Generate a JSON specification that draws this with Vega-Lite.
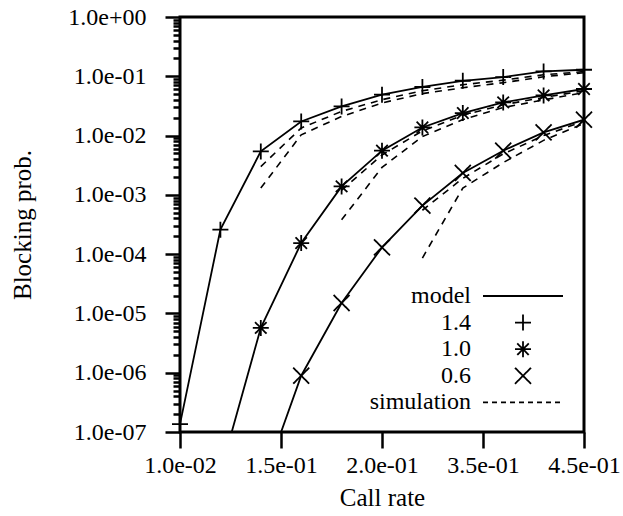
{
  "$schema": "https://vega.github.io/schema/vega-lite/v6.json",
  "width": 404,
  "height": 415,
  "autosize": {"type": "none"},
  "padding": {"left": 180, "top": 17, "right": 39, "bottom": 84},
  "background": "white",
  "config": {
    "font": "Liberation Serif",
    "view": {"stroke": "black", "strokeWidth": 3},
    "axis": {"domain": false, "grid": false, "tickColor": "black", "tickWidth": 2.5, "labelColor": "black", "titleColor": "black", "labelFont": "Liberation Serif", "titleFont": "Liberation Serif", "labelFontSize": 24, "titleFontSize": 25, "titleFontWeight": "normal"},
    "legend": {
      "orient": "none", "legendX": 331, "legendY": 267,
      "labelFont": "Liberation Serif", "labelFontSize": 24, "labelColor": "black",
      "labelAlign": "right", "labelOffset": -64, "rowPadding": 2.6,
      "symbolStrokeWidth": 1.8, "symbolStrokeColor": "black", "symbolFillColor": "transparent",
      "symbolSize": 256, "padding": 0, "labelLimit": 300
    }
  },
  "datasets": {
    "model": [
      {"rate": 0.05, "p": 1.36e-7, "param": "1.4"},
      {"rate": 0.09, "p": 2.59e-4, "param": "1.4"},
      {"rate": 0.13, "p": 5.41e-3, "param": "1.4"},
      {"rate": 0.17, "p": 1.73e-2, "param": "1.4"},
      {"rate": 0.21, "p": 3.1e-2, "param": "1.4"},
      {"rate": 0.25, "p": 4.9e-2, "param": "1.4"},
      {"rate": 0.29, "p": 6.6e-2, "param": "1.4"},
      {"rate": 0.33, "p": 8.4e-2, "param": "1.4"},
      {"rate": 0.37, "p": 9.7e-2, "param": "1.4"},
      {"rate": 0.41, "p": 1.21e-1, "param": "1.4"},
      {"rate": 0.45, "p": 1.29e-1, "param": "1.4"},
      {"rate": 0.09, "p": 2.07e-8, "param": "1.0"},
      {"rate": 0.13, "p": 5.7e-6, "param": "1.0"},
      {"rate": 0.17, "p": 1.54e-4, "param": "1.0"},
      {"rate": 0.21, "p": 1.39e-3, "param": "1.0"},
      {"rate": 0.25, "p": 5.56e-3, "param": "1.0"},
      {"rate": 0.29, "p": 1.37e-2, "param": "1.0"},
      {"rate": 0.33, "p": 2.4e-2, "param": "1.0"},
      {"rate": 0.37, "p": 3.63e-2, "param": "1.0"},
      {"rate": 0.41, "p": 4.76e-2, "param": "1.0"},
      {"rate": 0.45, "p": 6.1e-2, "param": "1.0"},
      {"rate": 0.13, "p": 1.1e-8, "param": "0.6"},
      {"rate": 0.17, "p": 8.9e-7, "param": "0.6"},
      {"rate": 0.21, "p": 1.5e-5, "param": "0.6"},
      {"rate": 0.25, "p": 1.3e-4, "param": "0.6"},
      {"rate": 0.29, "p": 6.6e-4, "param": "0.6"},
      {"rate": 0.33, "p": 2.34e-3, "param": "0.6"},
      {"rate": 0.37, "p": 5.56e-3, "param": "0.6"},
      {"rate": 0.41, "p": 1.13e-2, "param": "0.6"},
      {"rate": 0.45, "p": 1.85e-2, "param": "0.6"}
    ],
    "sim": [
      {"rate": 0.13, "p": 3.0e-3, "curve": "1.4a"},
      {"rate": 0.17, "p": 1.34e-2, "curve": "1.4a"},
      {"rate": 0.21, "p": 2.56e-2, "curve": "1.4a"},
      {"rate": 0.25, "p": 4.03e-2, "curve": "1.4a"},
      {"rate": 0.29, "p": 5.7e-2, "curve": "1.4a"},
      {"rate": 0.33, "p": 7.2e-2, "curve": "1.4a"},
      {"rate": 0.37, "p": 8.6e-2, "curve": "1.4a"},
      {"rate": 0.41, "p": 1.06e-1, "curve": "1.4a"},
      {"rate": 0.45, "p": 1.2e-1, "curve": "1.4a"},
      {"rate": 0.13, "p": 1.3e-3, "curve": "1.4b"},
      {"rate": 0.17, "p": 1.03e-2, "curve": "1.4b"},
      {"rate": 0.21, "p": 2.1e-2, "curve": "1.4b"},
      {"rate": 0.25, "p": 3.55e-2, "curve": "1.4b"},
      {"rate": 0.29, "p": 5.1e-2, "curve": "1.4b"},
      {"rate": 0.33, "p": 6.4e-2, "curve": "1.4b"},
      {"rate": 0.37, "p": 7.8e-2, "curve": "1.4b"},
      {"rate": 0.41, "p": 9.8e-2, "curve": "1.4b"},
      {"rate": 0.45, "p": 1.15e-1, "curve": "1.4b"},
      {"rate": 0.21, "p": 1.2e-3, "curve": "1.0a"},
      {"rate": 0.25, "p": 4.7e-3, "curve": "1.0a"},
      {"rate": 0.29, "p": 1.2e-2, "curve": "1.0a"},
      {"rate": 0.33, "p": 2.2e-2, "curve": "1.0a"},
      {"rate": 0.37, "p": 3.3e-2, "curve": "1.0a"},
      {"rate": 0.41, "p": 4.4e-2, "curve": "1.0a"},
      {"rate": 0.45, "p": 5.7e-2, "curve": "1.0a"},
      {"rate": 0.21, "p": 3.8e-4, "curve": "1.0b"},
      {"rate": 0.25, "p": 2.9e-3, "curve": "1.0b"},
      {"rate": 0.29, "p": 9.6e-3, "curve": "1.0b"},
      {"rate": 0.33, "p": 1.86e-2, "curve": "1.0b"},
      {"rate": 0.37, "p": 2.97e-2, "curve": "1.0b"},
      {"rate": 0.41, "p": 4.0e-2, "curve": "1.0b"},
      {"rate": 0.45, "p": 5.3e-2, "curve": "1.0b"},
      {"rate": 0.29, "p": 5.5e-4, "curve": "0.6a"},
      {"rate": 0.33, "p": 1.9e-3, "curve": "0.6a"},
      {"rate": 0.37, "p": 4.9e-3, "curve": "0.6a"},
      {"rate": 0.41, "p": 1.0e-2, "curve": "0.6a"},
      {"rate": 0.45, "p": 1.75e-2, "curve": "0.6a"},
      {"rate": 0.29, "p": 8.6e-5, "curve": "0.6b"},
      {"rate": 0.33, "p": 1.3e-3, "curve": "0.6b"},
      {"rate": 0.37, "p": 3.5e-3, "curve": "0.6b"},
      {"rate": 0.41, "p": 8.3e-3, "curve": "0.6b"},
      {"rate": 0.45, "p": 1.6e-2, "curve": "0.6b"}
    ]
  },
  "encoding": {
    "x": {
      "field": "rate", "type": "quantitative",
      "scale": {"domain": [0.05, 0.45], "nice": false, "zero": false},
      "axis": {
        "title": "Call rate", "values": [0.05, 0.15, 0.25, 0.35, 0.45],
        "tickSize": 16, "labelPadding": 5, "titleY": 65, "titleBaseline": "middle",
        "labelExpr": "round(datum.value*100) == 5 ? '1.0e-02' : round(datum.value*100) == 15 ? '1.5e-01' : round(datum.value*100) == 25 ? '2.0e-01' : round(datum.value*100) == 35 ? '3.5e-01' : '4.5e-01'",
        "labelFlush": false, "labelOverlap": false
      }
    }
  },
  "layer": [
    {
      "data": {"name": "model"},
      "mark": {"type": "line", "color": "black", "strokeWidth": 1.8, "clip": true},
      "encoding": {
        "y": {
          "field": "p", "type": "quantitative",
          "scale": {"type": "log", "domain": [1e-7, 1], "nice": false},
          "axis": {
            "title": "Blocking prob.", "orient": "left",
            "values": [1e-7, 1e-6, 1e-5, 1e-4, 1e-3, 1e-2, 1e-1, 1],
            "tickSize": 15, "labelPadding": 19,
            "labelExpr": "datum.value >= 0.5 ? '1.0e+00' : '1.0e-0' + round(-log(datum.value)/LN10)",
            "titleX": -158, "titleY": 207.5, "titleAngle": -90, "titleAlign": "center", "titleBaseline": "middle",
            "labelOverlap": false, "labelFlush": false
          }
        },
        "detail": {"field": "param", "type": "nominal"}
      }
    },
    {
      "data": {"name": "sim"},
      "mark": {"type": "line", "color": "black", "strokeWidth": 1.6, "strokeDash": [7, 6], "clip": true},
      "encoding": {
        "y": {
          "field": "p", "type": "quantitative",
          "axis": {
            "title": null, "orient": "left", "labels": false, "domain": false,
            "values": [2e-7, 3e-7, 4e-7, 5e-7, 6e-7, 7e-7, 8e-7, 9e-7, 2e-6, 3e-6, 4e-6, 5e-6, 6e-6, 7e-6, 8e-6, 9e-6, 2e-5, 3e-5, 4e-5, 5e-5, 6e-5, 7e-5, 8e-5, 9e-5, 2e-4, 3e-4, 4e-4, 5e-4, 6e-4, 7e-4, 8e-4, 9e-4, 2e-3, 3e-3, 4e-3, 5e-3, 6e-3, 7e-3, 8e-3, 9e-3, 2e-2, 3e-2, 4e-2, 5e-2, 6e-2, 7e-2, 8e-2, 9e-2, 0.2, 0.3, 0.4, 0.5, 0.6, 0.7, 0.8, 0.9],
            "tickSize": 7
          }
        },
        "detail": {"field": "curve", "type": "nominal"}
      }
    },
    {
      "data": {"name": "model"},
      "transform": [{"filter": "datum.p >= 1e-7"}],
      "mark": {"type": "point", "filled": false, "color": "black", "strokeWidth": 1.8, "opacity": 1, "size": 256},
      "encoding": {
        "y": {"field": "p", "type": "quantitative", "axis": null},
        "shape": {
          "field": "param", "type": "nominal",
          "scale": {"domain": ["model", "1.4", "1.0", "0.6", "simulation"], "range": ["M-5,0H5", "M-1,0H1M0,-1V1", "M-1,0H1M0,-1V1M-0.72,-0.72L0.72,0.72M-0.72,0.72L0.72,-0.72", "M-1,-1L1,1M-1,1L1,-1", "M-5,0H5"]},
          "legend": {"title": null}
        },
        "strokeDash": {
          "field": "param", "type": "nominal",
          "scale": {"domain": ["model", "1.4", "1.0", "0.6", "simulation"], "range": [[1, 0], [1, 0], [1, 0], [1, 0], [5, 4]]},
          "legend": {"title": null}
        }
      }
    }
  ],
  "resolve": {"axis": {"y": "independent"}, "scale": {"y": "shared"}}
}
